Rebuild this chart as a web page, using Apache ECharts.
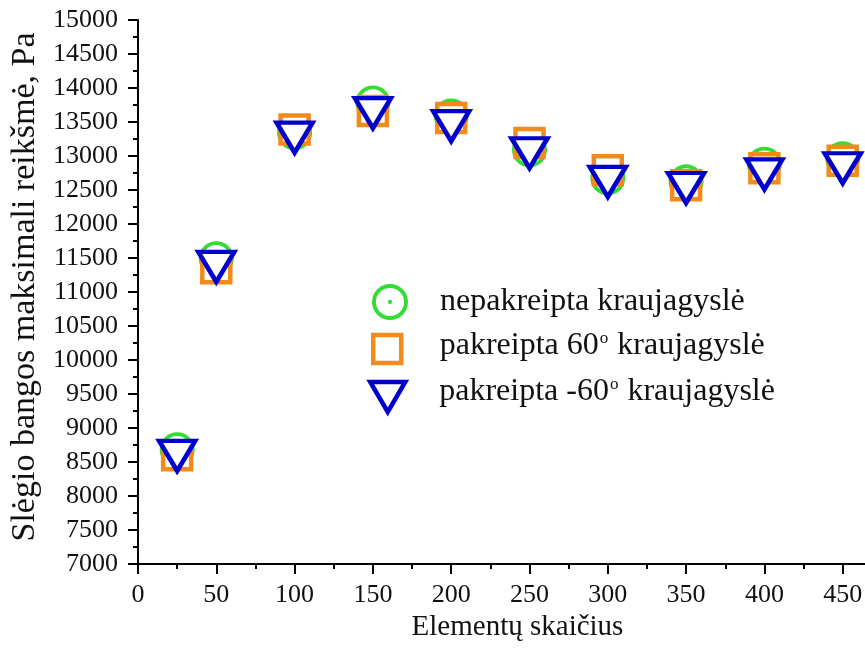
<!DOCTYPE html>
<html>
<head>
<meta charset="utf-8">
<script src="https://cdn.jsdelivr.net/npm/echarts@6/dist/echarts.min.js"></script>
<style>
  html, body { margin: 0; padding: 0; background: #fff; }
  #chart { width: 865px; height: 649px; }
</style>
</head>
<body>
<div id="chart"></div>
<script>
// Number of elements (x) and peak pressure-wave value in Pa for each vessel geometry
const elementCounts = [25, 50, 100, 150, 200, 250, 300, 350, 400, 450];
const straightVessel = [8680, 11490, 13340, 13780, 13590, 13090, 12680, 12620, 12880, 12960];
const tilted60 = [8600, 11350, 13390, 13660, 13560, 13190, 12790, 12570, 12820, 12930];
const tiltedMinus60 = [8590, 11370, 13270, 13630, 13440, 13040, 12620, 12530, 12730, 12820];

const seriesNames = [
  'nepakreipta kraujagyslė',
  'pakreipta 60° kraujagyslė',
  'pakreipta -60° kraujagyslė'
];
const xTitle = 'Elementų skaičius';
const yTitle = 'Slėgio bangos maksimali reikšmė, Pa';

const FONT = '"Liberation Serif", "Times New Roman", serif';
const GREEN = '#35dc35';
const ORANGE = '#f28a1c';
const BLUE = '#0000cc';

// ring with a small centre dot, drawn as one filled path
const ringDot = 'path://M0,10A10,10,0,1,1,20,10A10,10,0,1,1,0,10Z' +
  'M2.2,10A7.8,7.8,0,1,0,17.8,10A7.8,7.8,0,1,0,2.2,10Z' +
  'M8.8,10A1.2,1.2,0,1,1,11.2,10A1.2,1.2,0,1,1,8.8,10Z';
const downTriangle = 'path://M0,0L35,0L17.5,30Z';
const square = 'path://M0,0L28,0L28,28L0,28Z';

function pairs(ys) { return elementCounts.map((x, i) => [x, ys[i]]); }

function legendText(bottomPad) {
  return {
    fontFamily: FONT, fontSize: 32, color: '#111', padding: [0, 0, bottomPad, 0],
    rich: {
      t: { fontFamily: FONT, fontSize: 32, color: '#111' },
      sup: { fontFamily: FONT, fontSize: 17, color: '#111', padding: [0, 1, 15, 1] }
    }
  };
}
function legendFmt(name) {
  return '{t|' + name.replace('°', '}{sup|o}{t|') + '}';
}

const axisCommon = {
  axisLine: { show: true, lineStyle: { color: '#000', width: 2 } },
  axisTick: { show: true, inside: false, length: 10, lineStyle: { color: '#000', width: 2 } },
  minorTick: { show: true, splitNumber: 2, length: 5, lineStyle: { color: '#000', width: 2 } },
  splitLine: { show: false },
  minorSplitLine: { show: false },
  axisLabel: { fontFamily: FONT, fontSize: 26, color: '#111', formatter: v => String(v) }
};

const chart = echarts.init(document.getElementById('chart'), null, { renderer: 'canvas' });
chart.setOption({
  animation: false,
  backgroundColor: '#fff',
  textStyle: { fontFamily: FONT },
  // the x axis runs on past the right edge of the canvas
  grid: { left: 138, top: 20, height: 544, width: 783, containLabel: false, outerBoundsMode: 'none' },
  xAxis: Object.assign({}, axisCommon, {
    type: 'value', min: 0, max: 500, interval: 50,
    name: xTitle, nameLocation: 'middle', nameGap: 45,
    nameTextStyle: { fontFamily: FONT, fontSize: 29, color: '#111', padding: [0, 24, 0, 0] },
    axisLabel: Object.assign({}, axisCommon.axisLabel, { margin: 18 })
  }),
  yAxis: Object.assign({}, axisCommon, {
    type: 'value', min: 7000, max: 15000, interval: 500,
    name: yTitle, nameLocation: 'middle', nameGap: 89, nameRotate: 90,
    nameTextStyle: { fontFamily: FONT, fontSize: 34, color: '#111', padding: [0, 0, 0, 10] },
    axisLabel: Object.assign({}, axisCommon.axisLabel, { margin: 20 })
  }),
  legend: [
    {
      data: [seriesNames[0]], left: 367, top: 279, orient: 'vertical',
      icon: ringDot, itemWidth: 90, itemHeight: 36, selectedMode: false,
      itemStyle: { color: GREEN, borderWidth: 0 },
      formatter: legendFmt, textStyle: legendText(0)
    },
    {
      data: [seriesNames[1]], left: 366, top: 325, orient: 'vertical',
      icon: square, itemWidth: 95, itemHeight: 28, selectedMode: false,
      itemStyle: { color: '#fff', borderColor: ORANGE, borderWidth: 4.5 },
      formatter: legendFmt, textStyle: legendText(6)
    },
    {
      data: [seriesNames[2]], left: 363, top: 371, orient: 'vertical',
      icon: downTriangle, itemWidth: 93, itemHeight: 30, selectedMode: false,
      itemStyle: { color: '#fff', borderColor: BLUE, borderWidth: 4.5 },
      formatter: legendFmt, textStyle: legendText(10)
    }
  ],
  series: [
    {
      name: seriesNames[0], type: 'scatter', data: pairs(straightVessel),
      symbol: ringDot, symbolSize: 35,
      itemStyle: { color: GREEN, borderWidth: 0, opacity: 1 }
    },
    {
      name: seriesNames[1], type: 'scatter', data: pairs(tilted60),
      symbol: square, symbolSize: 28,
      itemStyle: { color: '#fff', borderColor: ORANGE, borderWidth: 4.5, opacity: 1 }
    },
    {
      name: seriesNames[2], type: 'scatter', data: pairs(tiltedMinus60),
      symbol: downTriangle, symbolSize: [36, 30],
      itemStyle: { color: '#fff', borderColor: BLUE, borderWidth: 4.5, opacity: 1 }
    }
  ]
});
</script>
</body>
</html>
